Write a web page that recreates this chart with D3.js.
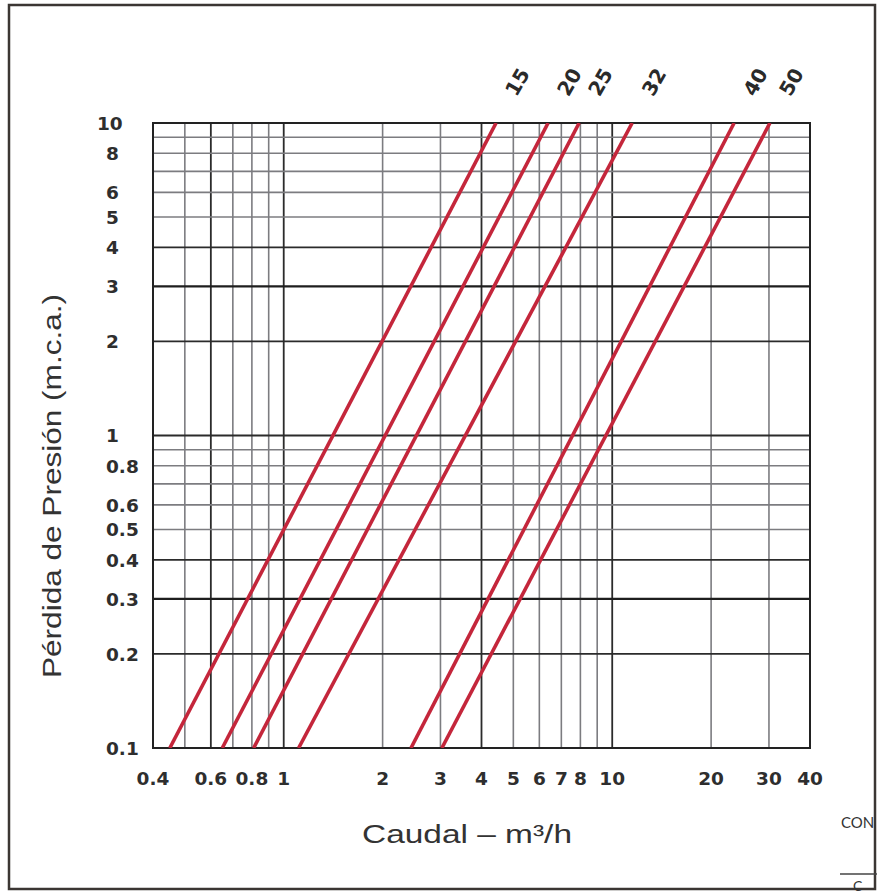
<!DOCTYPE html>
<html>
<head>
<meta charset="utf-8">
<script src="https://cdn.jsdelivr.net/npm/d3@7"></script>
<style>
    body { margin: 0; background: #ffffff; }
    svg { display: block; }
</style>
</head>
<body>
<svg id="chart"></svg>
<script>
// axis ticks (labelled values)
const X_TICKS = [0.4, 0.6, 0.8, 1, 2, 3, 4, 5, 6, 7, 8, 10, 20, 30, 40];
const Y_TICKS = [0.1, 0.2, 0.3, 0.4, 0.5, 0.6, 0.8, 1, 2, 3, 4, 5, 6, 8, 10];

// grid lines
const X_GRID       = [0.5, 0.6, 0.7, 0.8, 0.9, 1, 2, 3, 4, 5, 6, 7, 8, 9, 10, 20, 30];
const X_GRID_DARK  = [0.6, 1, 4, 10];
const Y_GRID       = [0.2, 0.3, 0.4, 0.5, 0.6, 0.7, 0.8, 0.9, 1, 2, 3, 4, 5, 6, 7, 8, 9];
const Y_GRID_DARK  = [0.2, 0.4, 1, 2, 4];
const Y_GRID_HEAVY = [0.3, 3];

// pipe sizes and flow (m3/h) read where each curve meets 0.1 and 10 m.c.a.
const PIPE_SIZES       = ['15', '20', '25', '32', '40', '50'];
const FLOW_AT_MIN_LOSS = [0.45, 0.65, 0.81, 1.11, 2.44, 3.03];
const FLOW_AT_MAX_LOSS = [4.43, 6.38, 7.93, 11.5, 23.5, 30.2];
const LOSS_RANGE       = [0.1, 10];
const FLOW_RANGE       = [0.4, 40];

class LossChart {
    constructor (selector) {
        this._selector = selector;
        this.w = 877;
        this.h = 893;
        this.plot = { x1: 153, x2: 810, y1: 123, y2: 748 };

        this.svg = d3.select(selector)
            .attr('width', this.w)
            .attr('height', this.h);

        this.x = d3.scaleLog().domain(FLOW_RANGE).range([this.plot.x1, this.plot.x2]);
        this.y = d3.scaleLog().domain(LOSS_RANGE).range([this.plot.y2, this.plot.y1]);
    }
    drawFrame () {
        this.svg.append('rect')
            .attr('x', 9).attr('y', 5)
            .attr('width', 866).attr('height', 884)
            .attr('fill', 'none')
            .attr('stroke', '#3b3633')
            .attr('stroke-width', 2.5);

        // page text cut by the scan on the right
        this.svg.append('text')
            .attr('x', 841).attr('y', 828)
            .attr('font-family', 'Lato, sans-serif')
            .attr('font-size', 15)
            .attr('fill', '#333')
            .text('CON');
        this.svg.append('line')
            .attr('x1', 840).attr('x2', 877)
            .attr('y1', 874).attr('y2', 874)
            .attr('stroke', '#444').attr('stroke-width', 1.5);
        this.svg.append('text')
            .attr('x', 853).attr('y', 891)
            .attr('font-family', 'Lato, sans-serif')
            .attr('font-size', 14)
            .attr('fill', '#333')
            .text('C');
    }
    drawGrid () {
        let p = this.plot;
        let g = this.svg.append('g').attr('class', 'grid');

        let style = (list_dark, list_heavy) => {
            return (d) => {
                if (list_heavy && list_heavy.includes(d)) return { c: '#1e1e1e', w: 2.2 };
                if (list_dark.includes(d)) return { c: '#2b2b2b', w: 1.8 };
                return { c: '#7c7c80', w: 1.6 };
            };
        };
        let xs = style(X_GRID_DARK);
        let ys = style(Y_GRID_DARK, Y_GRID_HEAVY);

        g.selectAll('line.gx')
            .data(X_GRID)
            .enter()
            .append('line')
            .attr('class', 'gx')
            .attr('x1', (d) => { return this.x(d); })
            .attr('x2', (d) => { return this.x(d); })
            .attr('y1', p.y1)
            .attr('y2', p.y2)
            .attr('stroke', (d) => { return xs(d).c; })
            .attr('stroke-width', (d) => { return xs(d).w; });

        g.selectAll('line.gy')
            .data(Y_GRID)
            .enter()
            .append('line')
            .attr('class', 'gy')
            .attr('x1', p.x1)
            .attr('x2', p.x2)
            .attr('y1', (d) => { return this.y(d); })
            .attr('y2', (d) => { return this.y(d); })
            .attr('stroke', (d) => { return ys(d).c; })
            .attr('stroke-width', (d) => { return ys(d).w; });

        // darker piece of the 5 line on the right
        g.append('line')
            .attr('x1', this.x(10)).attr('x2', p.x2)
            .attr('y1', this.y(5)).attr('y2', this.y(5))
            .attr('stroke', '#2b2b2b').attr('stroke-width', 1.8);

        g.append('rect')
            .attr('x', p.x1).attr('y', p.y1)
            .attr('width', p.x2 - p.x1).attr('height', p.y2 - p.y1)
            .attr('fill', 'none')
            .attr('stroke', '#222')
            .attr('stroke-width', 2);
    }
    drawAxes () {
        let font = '"DejaVu Sans", sans-serif';

        this.svg.append('g')
            .selectAll('text')
            .data(X_TICKS)
            .enter()
            .append('text')
            .attr('x', (d) => { return this.x(d); })
            .attr('y', 785)
            .attr('text-anchor', 'middle')
            .attr('font-family', font)
            .attr('font-weight', 'bold')
            .attr('font-size', 18.5)
            .attr('fill', '#2e2e2e')
            .text((d) => { return String(d); });

        this.svg.append('g')
            .selectAll('text')
            .data(Y_TICKS)
            .enter()
            .append('text')
            .attr('x', (d) => { return d >= 10 ? 97 : 106; })
            .attr('y', (d) => { return this.y(d); })
            .attr('dy', '0.37em')
            .attr('font-family', font)
            .attr('font-weight', 'bold')
            .attr('font-size', 18.5)
            .attr('fill', '#2e2e2e')
            .text((d) => { return String(d); });

        this.svg.append('text')
            .attr('x', 362).attr('y', 843)
            .attr('font-family', 'Liberation Sans, Arial, sans-serif')
            .attr('font-size', 26)
            .attr('fill', '#333')
            .attr('textLength', 210)
            .attr('lengthAdjust', 'spacingAndGlyphs')
            .text('Caudal – m³/h');

        this.svg.append('text')
            .attr('transform', 'translate(61,678) rotate(-90)')
            .attr('font-family', 'Liberation Sans, Arial, sans-serif')
            .attr('font-size', 26)
            .attr('fill', '#333')
            .attr('textLength', 384)
            .attr('lengthAdjust', 'spacingAndGlyphs')
            .text('Pérdida de Presión (m.c.a.)');
    }
    drawCurves () {
        let p = this.plot;

        this.svg.append('clipPath')
            .attr('id', 'plot-clip')
            .append('rect')
            .attr('x', p.x1).attr('y', p.y1)
            .attr('width', p.x2 - p.x1).attr('height', p.y2 - p.y1);

        let data = PIPE_SIZES.map((size, i) => {
            return {
                size: size,
                pts: [
                    { q: FLOW_AT_MIN_LOSS[i], h: LOSS_RANGE[0] },
                    { q: FLOW_AT_MAX_LOSS[i], h: LOSS_RANGE[1] },
                ],
            };
        });

        let line = d3.line()
            .x((d) => { return this.x(d.q); })
            .y((d) => { return this.y(d.h); });

        this.svg.append('g')
            .attr('clip-path', 'url(#plot-clip)')
            .selectAll('path')
            .data(data)
            .enter()
            .append('path')
            .attr('d', (d) => { return line(d.pts); })
            .attr('fill', 'none')
            .attr('stroke', '#c4263b')
            .attr('stroke-width', 3.6);

        // size labels sit on the extension of each line above the plot
        let label_y = 82;
        let h_label = this.y.invert(label_y);
        this.svg.append('g')
            .selectAll('text')
            .data(data)
            .enter()
            .append('text')
            .attr('transform', (d) => {
                let a = d.pts[0], b = d.pts[1];
                let t = Math.log(h_label / a.h) / Math.log(b.h / a.h);
                let q = Math.exp(Math.log(a.q) + t * Math.log(b.q / a.q));
                return 'translate(' + this.x(q) + ',' + label_y + ') rotate(-60)';
            })
            .attr('text-anchor', 'middle')
            .attr('dy', '0.35em')
            .attr('font-family', '"DejaVu Sans", sans-serif')
            .attr('font-weight', 'bold')
            .attr('font-size', 20)
            .attr('fill', '#2a2a2a')
            .text((d) => { return d.size; });
    }
    draw () {
        this.drawFrame();
        this.drawGrid();
        this.drawCurves();
        this.drawAxes();
    }
}

new LossChart('#chart').draw();
</script>
</body>
</html>
